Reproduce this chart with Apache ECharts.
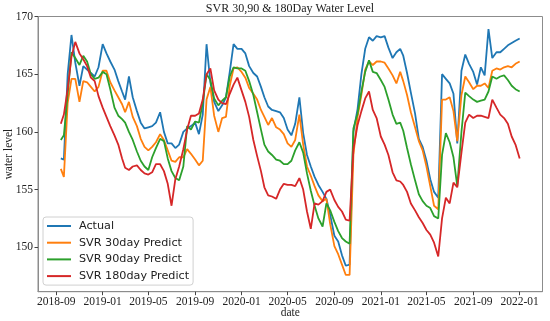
<!DOCTYPE html>
<html><head><meta charset="utf-8">
<script src="https://cdn.jsdelivr.net/npm/echarts@6/dist/echarts.min.js"></script>
<style>html,body{margin:0;padding:0;background:#fff}#c{width:550px;height:321px}</style>
</head><body><div id="c"></div>
<script>
const dates = [
'2018-09-13','2018-09-21','2018-10-01','2018-10-11','2018-10-21','2018-11-01','2018-11-11','2018-11-21','2018-12-01','2018-12-11','2018-12-21',
'2019-01-01','2019-01-11','2019-01-21','2019-02-01','2019-02-11','2019-02-21','2019-03-01','2019-03-11','2019-03-21','2019-04-01','2019-04-11','2019-04-21',
'2019-05-01','2019-05-11','2019-05-21','2019-06-01','2019-06-11','2019-06-21','2019-07-01','2019-07-11','2019-07-21','2019-08-01','2019-08-11','2019-08-21',
'2019-09-01','2019-09-11','2019-09-21','2019-10-01','2019-10-11','2019-10-21','2019-11-01','2019-11-11','2019-11-21','2019-12-01','2019-12-11','2019-12-21',
'2020-01-01','2020-01-11','2020-01-21','2020-02-01','2020-02-11','2020-02-21','2020-03-01','2020-03-11','2020-03-21','2020-04-01','2020-04-11','2020-04-21',
'2020-05-01','2020-05-11','2020-05-21','2020-06-01','2020-06-11','2020-06-21','2020-07-01','2020-07-11','2020-07-21','2020-08-01','2020-08-11','2020-08-21',
'2020-09-01','2020-09-11','2020-09-21','2020-10-01','2020-10-11','2020-10-21','2020-11-01','2020-11-11','2020-11-21','2020-12-01','2020-12-11','2020-12-21',
'2021-01-01','2021-01-11','2021-01-21','2021-02-01','2021-02-11','2021-02-21','2021-03-01','2021-03-11','2021-03-21','2021-04-01','2021-04-11','2021-04-21',
'2021-05-01','2021-05-11','2021-05-21','2021-06-01','2021-06-11','2021-06-21','2021-07-01','2021-07-11','2021-07-21','2021-08-01','2021-08-11','2021-08-21',
'2021-09-01','2021-09-11','2021-09-21','2021-10-01','2021-10-11','2021-10-21','2021-11-01','2021-11-11','2021-11-21','2021-12-01','2021-12-11','2021-12-21',
'2022-01-01'];

const actual = [
157.7,157.6,165.0,168.4,166.0,164.0,165.7,165.4,165.1,164.8,165.6,
167.6,166.8,166.1,165.4,164.4,163.5,162.8,164.8,163.0,161.8,160.8,160.3,
160.4,160.5,160.8,161.7,160.0,159.0,159.0,158.6,158.9,160.0,160.3,160.5,
160.8,159.8,161.5,167.6,164.3,162.6,161.8,162.3,163.0,165.2,167.6,167.2,
167.2,166.8,165.7,165.1,164.8,163.9,163.0,162.2,161.9,161.8,161.7,161.2,
160.2,159.7,160.7,163.0,159.9,158.0,157.0,156.1,155.4,154.8,154.2,152.8,
151.0,150.5,149.3,148.4,148.5,160.0,162.0,165.0,167.2,168.2,167.9,168.3,
168.2,168.3,167.3,166.4,166.9,167.2,166.6,165.1,163.4,161.6,159.4,158.7,
157.5,155.9,154.8,154.3,165.0,164.6,164.2,163.3,159.0,165.3,166.7,165.9,
165.2,164.1,165.6,164.9,168.9,166.4,166.9,166.9,167.2,167.5,167.7,167.9,
168.1];

const svr30 = [
156.8,156.1,162.5,164.6,164.6,162.6,164.4,164.3,163.9,163.5,163.9,
165.3,165.3,164.3,163.6,163.0,162.4,161.7,162.6,161.3,160.5,159.4,158.7,
158.4,158.7,159.1,159.8,159.3,158.4,157.5,157.4,157.8,157.8,158.5,158.1,
157.6,157.1,157.5,162.8,163.9,161.4,160.0,161.2,161.3,164.0,165.5,165.6,
165.2,164.7,163.8,163.3,162.8,161.9,161.3,160.6,161.2,160.4,160.2,159.8,
159.0,158.7,159.3,161.5,158.9,157.0,156.2,155.3,154.5,154.0,154.2,152.0,
150.1,149.4,148.5,147.6,147.6,158.0,161.3,163.2,165.4,166.1,165.8,166.1,
166.1,166.0,165.5,164.9,164.2,165.2,164.4,163.2,161.7,160.4,159.2,158.4,
157.0,155.3,153.6,153.3,162.8,162.8,163.0,161.8,159.2,163.2,164.8,164.3,
163.7,164.0,164.0,164.2,163.8,165.3,165.5,165.4,165.6,165.7,165.6,165.9,
166.1];

const svr90 = [
159.3,159.7,163.3,166.9,166.4,165.8,166.6,166.1,165.0,164.6,164.7,
165.2,165.0,163.7,162.1,161.4,161.1,160.8,160.0,159.3,158.3,157.5,157.0,
156.7,157.8,158.6,159.4,159.2,157.7,156.6,156.0,155.8,157.0,160.5,160.2,
160.9,160.8,162.5,165.0,164.5,162.9,162.3,162.7,163.0,164.8,165.6,165.5,
165.5,165.3,164.4,163.2,161.7,160.2,158.9,158.3,158.0,157.6,157.5,157.2,
157.2,157.5,158.4,159.1,158.2,156.4,154.9,153.6,152.5,151.8,153.8,153.2,
152.2,151.4,150.8,150.5,150.3,160.3,161.6,163.5,165.2,166.2,165.2,165.1,
164.5,163.9,162.8,161.5,160.7,160.8,160.1,158.6,157.2,155.8,154.6,154.0,
153.6,153.4,152.7,152.5,158.0,159.9,159.1,157.8,155.3,160.0,163.4,163.1,
162.8,162.6,162.7,162.8,163.5,164.8,164.6,164.8,164.9,164.5,164.0,163.7,
163.5];

const svr180 = [
160.7,161.5,163.7,166.5,167.8,166.8,166.3,165.7,164.7,164.4,163.1,
162.1,161.3,160.5,159.7,158.9,157.7,156.9,156.7,157.0,157.1,156.7,156.4,
156.3,156.5,157.2,157.2,156.6,155.5,153.6,155.9,157.0,158.5,160.2,161.4,
161.4,161.6,162.8,165.0,165.5,163.6,162.8,162.5,162.4,163.3,164.1,164.7,
163.6,162.6,161.3,159.3,157.9,156.6,155.2,154.5,154.4,154.2,155.0,155.5,
155.4,155.4,155.3,156.0,155.0,153.1,151.6,153.8,153.7,154.0,154.8,155.0,
154.1,153.5,153.1,152.4,152.3,158.5,160.6,161.8,162.9,163.5,161.9,161.2,
159.6,158.9,158.0,156.5,155.8,155.7,155.4,154.8,153.8,153.2,152.6,152.1,
151.5,151.1,150.4,149.2,152.5,154.3,153.8,155.6,155.2,158.2,160.8,161.5,
161.2,161.4,161.4,161.3,161.2,162.8,162.1,161.5,161.2,160.7,159.6,158.9,
157.7];

const seriesNames = ['Actual','SVR 30day Predict','SVR 90day Predict','SVR 180day Predict'];
const seriesColors = ['#1f77b4','#ff7f0e','#2ca02c','#d62728'];
const xTickLabels = ['2018-09','2019-01','2019-05','2019-09','2020-01','2020-05','2020-09','2021-01','2021-05','2021-09','2022-01'];
const yTicks = [150,155,160,165,170];

function toTs(s){ const p = s.split('-').map(Number); return Date.UTC(p[0], p[1]-1, p[2] || 1); }
const xTicks = xTickLabels.map(toTs);
function fmtMonth(v){ const d = new Date(v); const m = d.getUTCMonth()+1; return d.getUTCFullYear() + '-' + (m < 10 ? '0' + m : m); }

const serif = '"Liberation Serif","Times New Roman",serif';
const frame = '#8c8c8c';
const txt = '#222';
const allValues = [actual, svr30, svr90, svr180];

const chart = echarts.init(document.getElementById('c'), null, {renderer:'canvas'});
chart.setOption({
  animation: false,
  backgroundColor: '#fff',
  title: {
    text: 'SVR 30,90 & 180Day Water Level',
    left: 290, top: 3, textAlign: 'center', padding: 0,
    textStyle: {fontFamily: serif, fontSize: 12, fontWeight: 'normal', color: txt}
  },
  grid: {left: 38, right: 7.5, top: 16.5, bottom: 29.3, show: true, borderColor: frame, borderWidth: 1, backgroundColor: 'transparent', outerBoundsMode: 'none'},
  legend: {
    orient: 'vertical', left: 43, top: 217, padding: [3, 4, 3, 4],
    itemWidth: 24, itemHeight: 2, itemGap: 4.7, icon: 'rect',
    backgroundColor: '#fff', borderColor: '#d0d0d0', borderWidth: 1, borderRadius: 3,
    textStyle: {fontFamily: '"DejaVu Sans"', fontSize: 11.2, color: txt, lineHeight: 12, padding: [0, 0, 0, 3]},
    data: seriesNames
  },
  xAxis: {
    type: 'value', min: toTs('2018-07-15'), max: toTs('2022-03-02'),
    name: 'date', nameLocation: 'middle', nameGap: 15, nameMoveOverlap: false,
    nameTextStyle: {fontFamily: serif, fontSize: 11.5, color: txt},
    axisLine: {show: true, lineStyle: {color: frame, width: 1}},
    axisTick: {show: true, customValues: xTicks, length: 3.5, lineStyle: {color: '#444'}},
    axisLabel: {customValues: xTicks, formatter: fmtMonth, fontFamily: serif, fontSize: 11.5, color: txt, margin: 4, hideOverlap: false},
    splitLine: {show: false}
  },
  yAxis: {
    type: 'value', min: 146.15, max: 170,
    name: 'water level', nameLocation: 'middle', nameGap: 23, nameMoveOverlap: false,
    nameTextStyle: {fontFamily: serif, fontSize: 11.5, color: txt},
    axisLine: {show: true, lineStyle: {color: frame, width: 1}},
    axisTick: {show: true, customValues: yTicks, length: 3.5, lineStyle: {color: '#444'}},
    axisLabel: {customValues: yTicks, fontFamily: serif, fontSize: 11.5, color: txt, margin: 5},
    splitLine: {show: false}
  },
  series: seriesNames.map((n, k) => ({
    name: n, type: 'line', showSymbol: false, symbol: 'none',
    color: seriesColors[k],
    lineStyle: {width: 1.8, color: seriesColors[k]},
    data: dates.map((d, i) => [toTs(d), allValues[k][i]])
  }))
});
</script></body></html>
